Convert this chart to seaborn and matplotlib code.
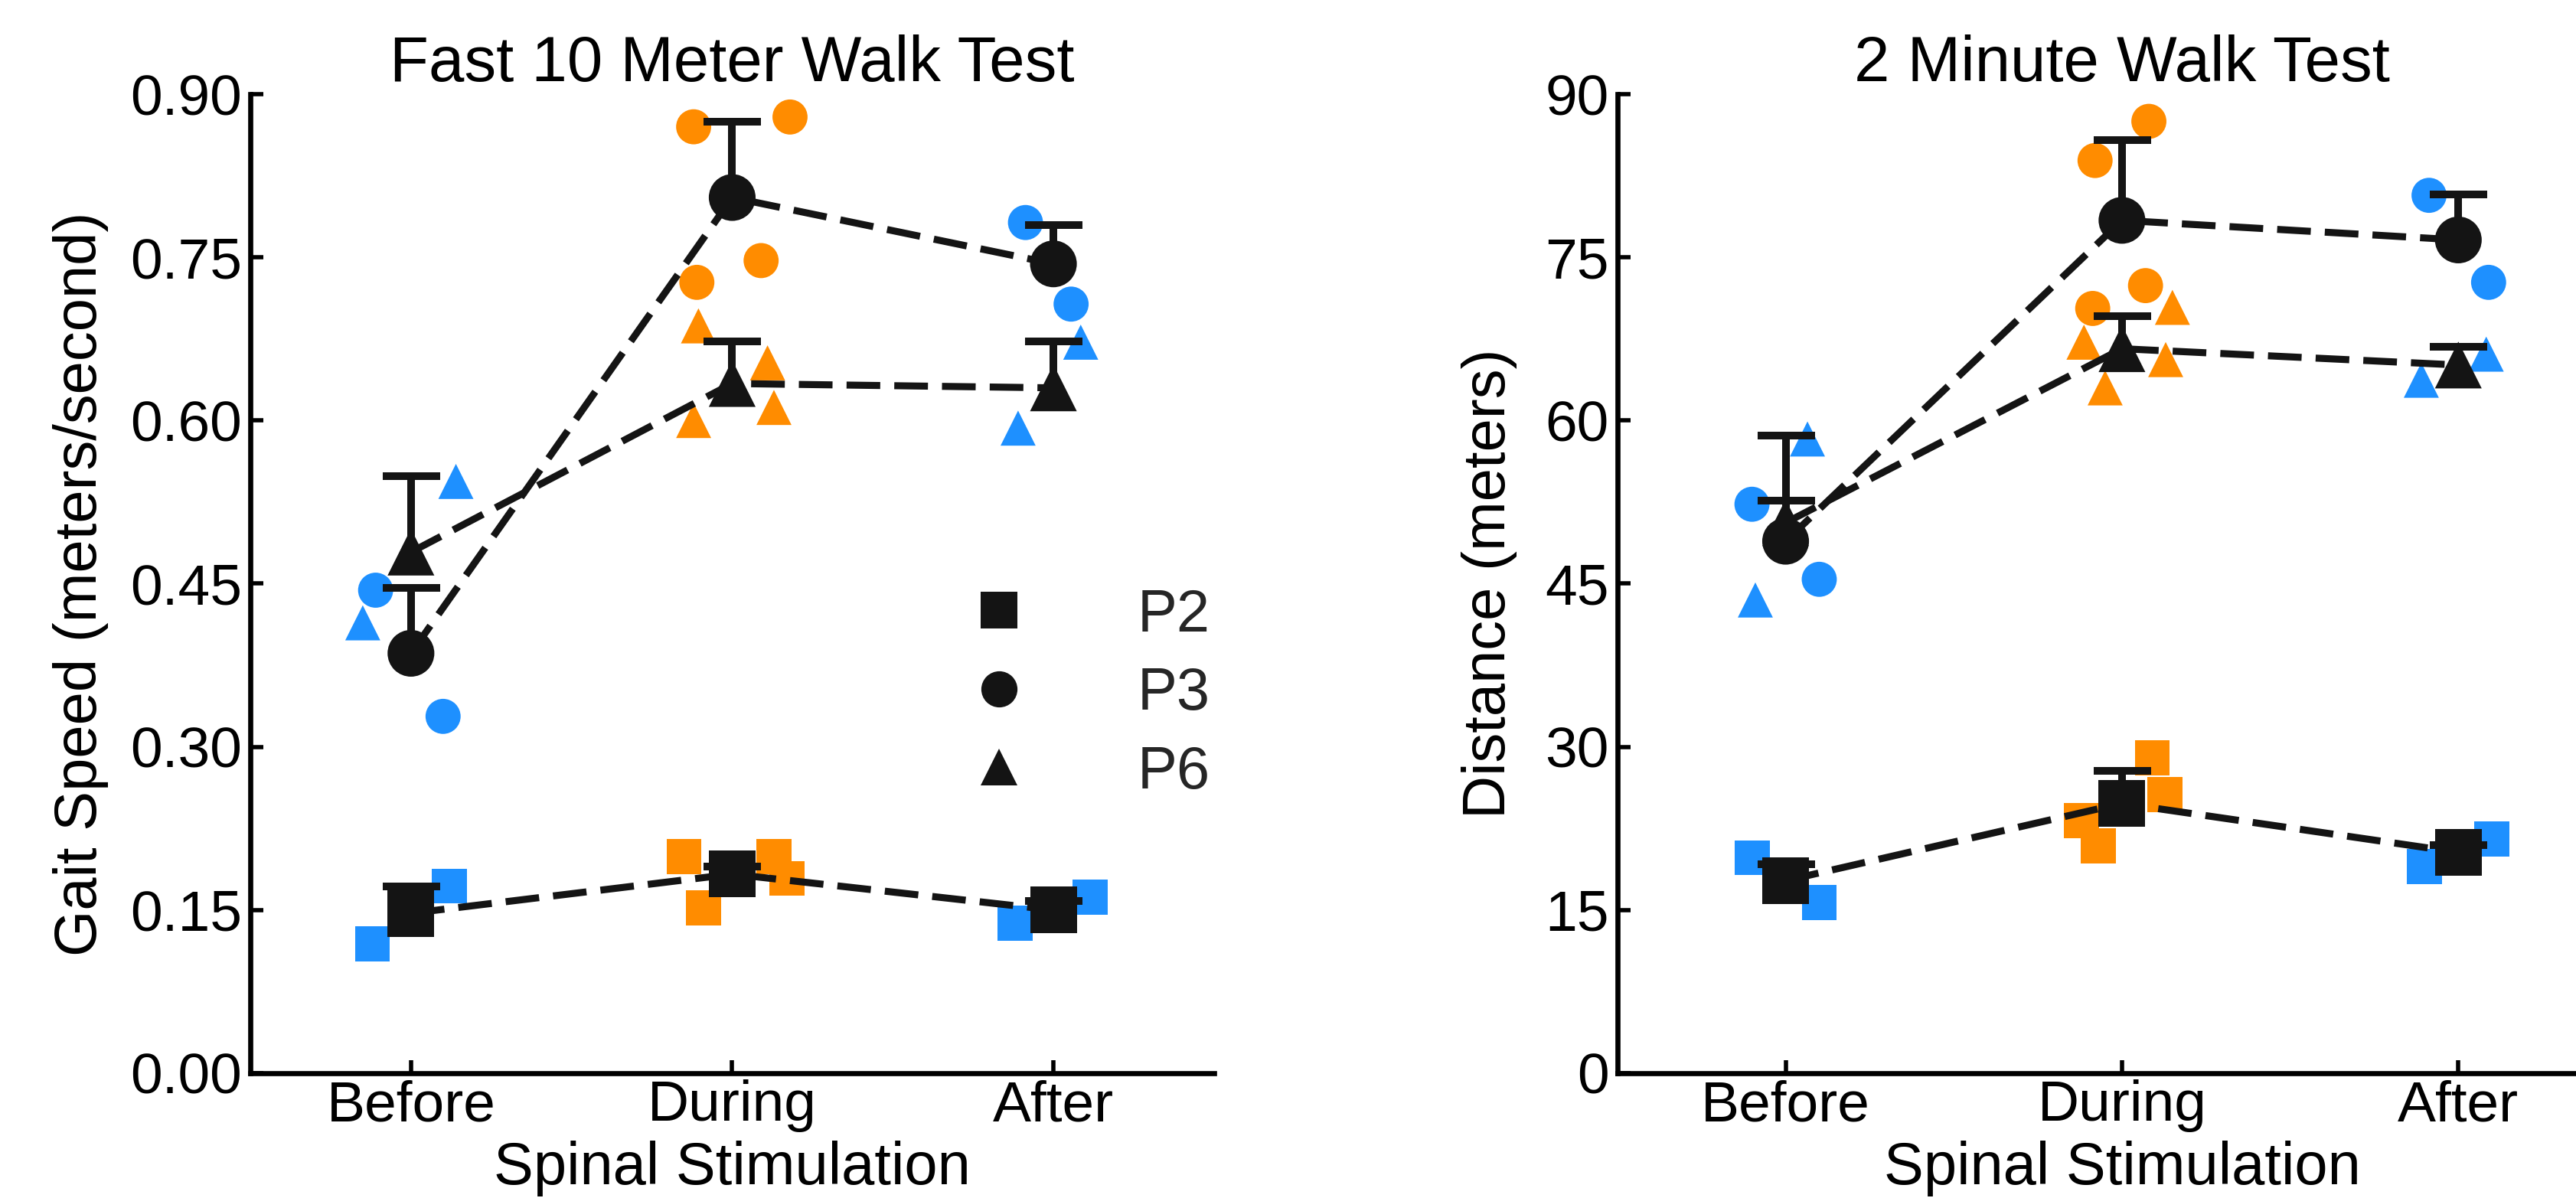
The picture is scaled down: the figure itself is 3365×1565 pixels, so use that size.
import numpy as np
import pandas as pd
import matplotlib
matplotlib.use("Agg")
import matplotlib.pyplot as plt
from matplotlib.lines import Line2D
import seaborn as sns

# ---------------- data ----------------
phases = ["Before", "During", "After"]
participants = ["P2", "P3", "P6"]

# Fast 10 Meter Walk Test (gait speed, m/s) - individual trials
speed_before = {"P2": [0.119, 0.172], "P3": [0.444, 0.328], "P6": [0.414, 0.544]}
speed_during = {"P2": [0.199, 0.152, 0.199, 0.179],
                "P3": [0.870, 0.727, 0.879, 0.747],
                "P6": [0.687, 0.600, 0.653, 0.612]}
speed_after = {"P2": [0.138, 0.162], "P3": [0.782, 0.707], "P6": [0.593, 0.672]}
speed_mean = {"P2": [0.147, 0.183, 0.150], "P3": [0.386, 0.805, 0.744], "P6": [0.479, 0.634, 0.630]}
speed_err_top = {"P2": [0.172, 0.190, 0.158], "P3": [0.446, 0.875, 0.780], "P6": [0.549, 0.673, 0.673]}

# 2 Minute Walk Test (distance, m) - individual trials
dist_before = {"P2": [19.8, 15.7], "P3": [52.3, 45.4], "P6": [43.5, 58.3]}
dist_during = {"P2": [23.2, 20.9, 29.0, 25.6],
               "P3": [83.9, 70.3, 87.5, 72.4],
               "P6": [67.2, 63.0, 70.4, 65.6]}
dist_after = {"P2": [19.0, 21.5], "P3": [80.7, 72.7], "P6": [63.7, 66.1]}
dist_mean = {"P2": [17.7, 24.8, 20.3], "P3": [48.9, 78.4, 76.6], "P6": [50.6, 66.6, 65.1]}
dist_err_top = {"P2": [19.2, 27.8, 21.0], "P3": [52.6, 85.8, 80.8], "P6": [58.6, 69.6, 66.8]}

speed_ticks = [0.00, 0.15, 0.30, 0.45, 0.60, 0.75, 0.90]
speed_ticklabels = ["0.00", "0.15", "0.30", "0.45", "0.60", "0.75", "0.90"]
dist_ticks = [0, 15, 30, 45, 60, 75, 90]
dist_ticklabels = ["0", "15", "30", "45", "60", "75", "90"]

# ---------------- layout (horizontal placement of trials around each category) ----------------
speed_offsets = {
    "Before": {"P2": [-0.12, 0.12], "P3": [-0.11, 0.10], "P6": [-0.15, 0.14]},
    "During": {"P2": [-0.15, -0.09, 0.13, 0.17], "P3": [-0.12, -0.11, 0.18, 0.09],
               "P6": [-0.105, -0.12, 0.11, 0.13]},
    "After": {"P2": [-0.12, 0.115], "P3": [-0.087, 0.055], "P6": [-0.11, 0.085]},
}
dist_offsets = {
    "Before": {"P2": [-0.10, 0.10], "P3": [-0.10, 0.10], "P6": [-0.09, 0.065]},
    "During": {"P2": [-0.12, -0.07, 0.09, 0.127], "P3": [-0.08, -0.087, 0.08, 0.07],
               "P6": [-0.113, -0.05, 0.15, 0.13]},
    "After": {"P2": [-0.10, 0.10], "P3": [-0.087, 0.09], "P6": [-0.11, 0.083]},
}

BLUE = "#1E90FF"
ORANGE = "#FF8C00"
BLACK = "#141414"
MARKERS = {"P2": "s", "P3": "o", "P6": "^"}


def trials_frame(before, during, after, offsets):
    rows = []
    for i, (ph, d) in enumerate(zip(phases, [before, during, after])):
        for p in participants:
            for v, off in zip(d[p], offsets[ph][p]):
                rows.append({"phase": ph, "participant": p, "value": v, "x": i + off})
    return pd.DataFrame(rows)


def means_frame(means, tops):
    rows = []
    for p in participants:
        for i, ph in enumerate(phases):
            rows.append({"phase": ph, "participant": p, "x": i,
                         "mean": means[p][i], "top": tops[p][i]})
    return pd.DataFrame(rows)


sns.set_theme(style="ticks")
plt.rcParams["font.family"] = ["Liberation Sans", "DejaVu Sans"]

fig = plt.figure(figsize=(16.83, 7.825), dpi=200)
ax1 = fig.add_axes([0.09715, 0.1042, 0.3740, 0.8172])
ax2 = fig.add_axes([0.6277, 0.1042, 0.3916, 0.8172])


def draw_panel(ax, trials, means, ylim, ticks, ticklabels, title, ylabel, labelpad):
    sns.scatterplot(data=trials, x="x", y="value", hue="phase", style="participant",
                    markers=MARKERS, palette={"Before": BLUE, "During": ORANGE, "After": BLUE},
                    s=16.5 ** 2, linewidth=0, edgecolor="none", legend=False, ax=ax,
                    zorder=2, clip_on=False)
    for p in participants:
        sub = means[means.participant == p]
        sns.lineplot(x=sub["x"].values, y=sub["mean"].values, color=BLACK, lw=3.3,
                     sort=False, estimator=None, ax=ax, zorder=3)
        ln = ax.lines[-1]
        ln.set_dashes((4.8, 2.0))
        ln.set_dash_capstyle("butt")
    _, caplines, _ = ax.errorbar(means["x"], means["mean"],
                                 yerr=[np.zeros(len(means)), means["top"] - means["mean"]],
                                 fmt="none", ecolor=BLACK, elinewidth=3.6, capsize=13.5,
                                 capthick=3.6, zorder=3.5)
    # one-sided (upward) error bars: hide the caps sitting at the mean
    for cl in caplines:
        if np.allclose(np.asarray(cl.get_ydata(), float), means["mean"].values):
            cl.set_visible(False)
    sns.scatterplot(data=means, x="x", y="mean", style="participant", markers=MARKERS,
                    color=BLACK, s=22 ** 2, linewidth=0, edgecolor="none", legend=False,
                    ax=ax, zorder=4, clip_on=False)
    ax.set_xlim(-0.5, 2.5)
    ax.set_ylim(*ylim)
    ax.set_xticks([0, 1, 2])
    ax.set_xticklabels(phases)
    ax.set_yticks(ticks)
    ax.set_yticklabels(ticklabels)
    ax.tick_params(axis="both", direction="in", length=6, width=2, labelsize=27,
                   colors="black")
    ax.tick_params(axis="x", pad=3)
    ax.tick_params(axis="y", pad=4)
    for s in ["top", "right"]:
        ax.spines[s].set_visible(False)
    for s in ["left", "bottom"]:
        ax.spines[s].set_linewidth(2.4)
        ax.spines[s].set_color("black")
    ax.set_xlabel("Spinal Stimulation", fontsize=28, labelpad=4, color="black")
    ax.set_ylabel(ylabel, fontsize=28, labelpad=labelpad, color="black")
    ax.set_title(title, fontsize=30, pad=6, color="black")


draw_panel(ax1, trials_frame(speed_before, speed_during, speed_after, speed_offsets),
           means_frame(speed_mean, speed_err_top), (0, 0.90), speed_ticks, speed_ticklabels,
           "Fast 10 Meter Walk Test", "Gait Speed (meters/second)", 10)
draw_panel(ax2, trials_frame(dist_before, dist_during, dist_after, dist_offsets),
           means_frame(dist_mean, dist_err_top), (0, 90), dist_ticks, dist_ticklabels,
           "2 Minute Walk Test", "Distance (meters)", 13)

handles = [Line2D([], [], linestyle="none", marker=MARKERS[p], color=BLACK,
                  markersize=17, markeredgewidth=0) for p in participants]
ax1.legend(handles, participants, loc="upper left", bbox_to_anchor=(0.715, 0.496),
           frameon=False, fontsize=28, handlelength=2, handletextpad=1.33,
           labelspacing=0.38, borderpad=0, borderaxespad=0)

fig.savefig("out.png", dpi=200)
